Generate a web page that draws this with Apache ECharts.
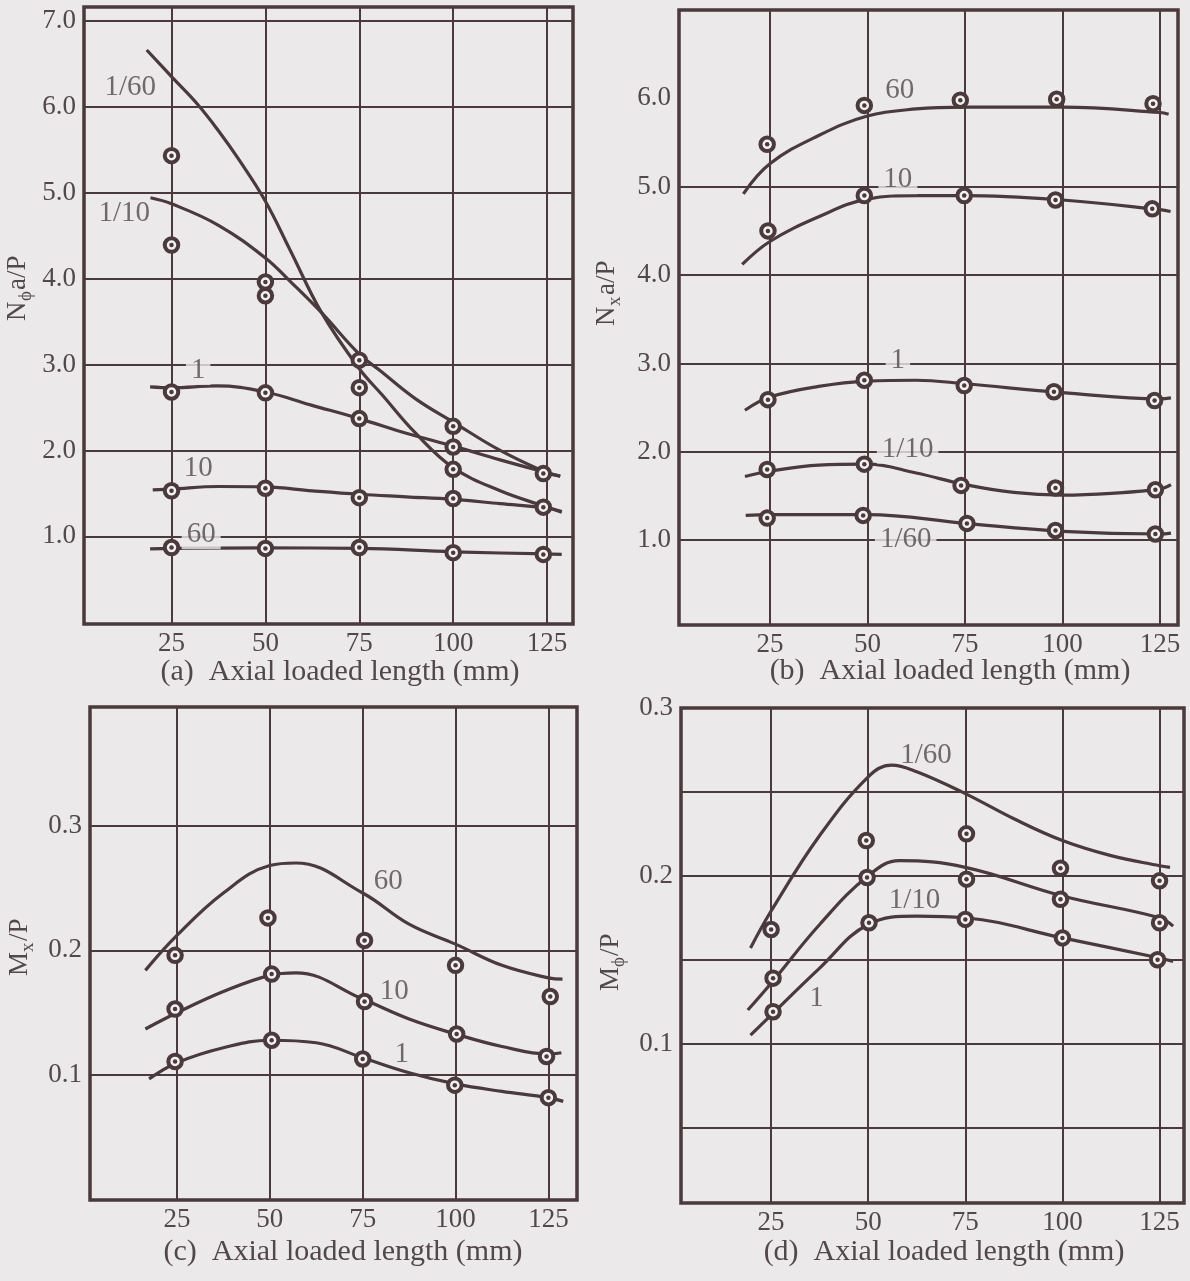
<!DOCTYPE html>
<html>
<head>
<meta charset="utf-8">
<script src="https://cdn.jsdelivr.net/npm/echarts@6/dist/echarts.min.js"></script>
<style>
html, body { margin: 0; padding: 0; background: #ebe9ea; }
#chart { width: 1190px; height: 1281px; }
</style>
</head>
<body>
<div id="chart"></div>
<script>
// axial loaded length ticks (mm)
var lengthTicks = [25, 50, 75, 100, 125];

// (a) N_phi a/P
var aTicks = [1, 2, 3, 4, 5, 6, 7];
var aPoints = [[25, 5.43], [25, 4.39], [25, 2.68], [25, 1.53], [25, 0.87],
    [50, 3.96], [50, 3.80], [50, 2.67], [50, 1.56], [50, 0.86],
    [75, 3.05], [75, 2.73], [75, 2.37], [75, 1.45], [75, 0.87],
    [100, 2.28], [100, 2.04], [100, 1.78], [100, 1.44], [100, 0.81],
    [124, 1.73], [124, 1.34], [124, 0.79]];
var aCurve1_60 = [[18.4, 6.66], [25, 6.35], [31.7, 6.04], [37.5, 5.72], [43, 5.38], [50, 4.90], [56.6, 4.33],
    [65, 3.60], [75, 2.95], [81, 2.65], [90, 2.20], [100, 1.80], [112.5, 1.53], [125, 1.34], [128.9, 1.28]];
var aCurve1_10 = [[19.4, 4.94], [25, 4.87], [37.5, 4.62], [50, 4.24], [57, 3.95], [65, 3.60],
    [75, 3.12], [80.5, 2.93], [90, 2.60], [100, 2.33], [112.5, 2.00], [125, 1.74], [128.5, 1.70]];
var aCurve1 = [[19.3, 2.74], [25, 2.73], [37, 2.75], [50, 2.68], [62, 2.53], [75, 2.37],
    [87.5, 2.20], [100, 2.05], [112.5, 1.89], [125, 1.74], [128.5, 1.70]];
var aCurve10 = [[20, 1.54], [25, 1.55], [37.5, 1.58], [50, 1.575], [62.5, 1.53], [75, 1.49], [87.5, 1.46],
    [100, 1.43], [112.5, 1.38], [125, 1.33], [128.9, 1.29]];
var aCurve60 = [[19.3, 0.855], [25, 0.86], [50, 0.865], [75, 0.86], [100, 0.82], [125, 0.795], [128.9, 0.79]];
var aTags = [[14, 6.23, '1/60', 0], [12.4, 4.76, '1/10', 0], [32.1, 2.93, '1', 1], [32.1, 1.79, '10', 0], [32.9, 1.02, '60', 1]];

// (b) N_x a/P
var bTicks = [1, 2, 3, 4, 5, 6];
var bGrid = [1, 2, 3, 4, 5];
var bPoints = [[24.3, 5.48], [49.2, 5.92], [73.8, 5.98], [98.5, 5.99], [123.2, 5.94],
    [24.5, 4.50], [49.2, 4.90], [74.8, 4.90], [98.2, 4.85], [123, 4.75],
    [24.5, 2.59], [49.2, 2.81], [74.8, 2.75], [97.8, 2.68], [123.6, 2.58],
    [24.3, 1.80], [49.2, 1.86], [74, 1.62], [98.2, 1.59], [123.8, 1.57],
    [24.3, 1.25], [48.9, 1.28], [75.5, 1.19], [98.2, 1.11], [123.8, 1.07]];
var bCurve60 = [[18.2, 4.92], [25, 5.26], [37.5, 5.58], [50, 5.80], [62.5, 5.88], [75, 5.90], [100, 5.90], [125, 5.84], [127.2, 5.82]];
var bCurve10 = [[17.9, 4.12], [25, 4.38], [37.5, 4.66], [50, 4.86], [62.5, 4.90], [75, 4.90], [100, 4.85], [125, 4.74], [127.7, 4.72]];
var bCurve1 = [[18.6, 2.47], [25, 2.62], [37.5, 2.74], [50, 2.80], [62.5, 2.81], [75, 2.77], [100, 2.67], [125, 2.60], [127.8, 2.61]];
var bCurve1_10 = [[18.6, 1.72], [25, 1.78], [37.5, 1.85], [50, 1.86], [62.5, 1.76], [75, 1.63], [87.5, 1.54],
    [100, 1.51], [112.5, 1.53], [125, 1.58], [127.8, 1.63]];
var bCurve1_60 = [[18.8, 1.28], [25, 1.29], [50, 1.29], [75, 1.19], [100, 1.10], [125, 1.07], [127.8, 1.08]];
var bTags = [[58.3, 6.09, '60', 0], [57.8, 5.08, '10', 1], [57.8, 3.03, '1', 1], [60.3, 2.03, '1/10', 1], [59.8, 1.01, '1/60', 1]];

// (c) M_x/P
var cTicks = [0.1, 0.2, 0.3];
var cPoints = [[24.5, 0.196], [49.5, 0.226], [75.5, 0.208], [100, 0.188], [125.5, 0.163],
    [24.5, 0.153], [50.5, 0.181], [75.5, 0.159], [100.3, 0.133], [124.5, 0.115],
    [24.5, 0.111], [50.5, 0.128], [75, 0.113], [99.8, 0.092], [125, 0.082]];
var cCurve60 = [[16.5, 0.184], [25, 0.212], [37.5, 0.246], [50, 0.268], [57, 0.270], [75, 0.246],
    [87.5, 0.221], [100, 0.205], [112.5, 0.188], [125, 0.178], [128.8, 0.177]];
var cCurve10 = [[16.5, 0.137], [25, 0.150], [37.5, 0.167], [50, 0.180], [57, 0.182], [75, 0.161],
    [87.5, 0.145], [100, 0.133], [112.5, 0.123], [125, 0.117], [128.5, 0.118]];
var cCurve1 = [[17.5, 0.097], [25, 0.110], [37.5, 0.122], [50, 0.128], [62.5, 0.126], [75, 0.114], [87.5, 0.102],
    [100, 0.093], [112.5, 0.087], [125, 0.082], [129, 0.079]];
var cTags = [[81.9, 0.255, '60', 0], [83.5, 0.167, '10', 0], [85.5, 0.117, '1', 0]];

// (d) M_phi/P
var dTicks = [0.1, 0.2, 0.3];
var dGrid = [0.05, 0.1, 0.15, 0.2, 0.25];
var dPoints = [[25, 0.168], [49.5, 0.221], [75.3, 0.225], [99.5, 0.2045], [125, 0.197],
    [25.5, 0.139], [49.7, 0.199], [75.3, 0.198], [99.5, 0.186], [125, 0.172],
    [25.5, 0.119], [50.2, 0.172], [75, 0.174], [100, 0.163], [124.5, 0.150]];
var dCurve1_60 = [[19.7, 0.157], [25, 0.179], [37.5, 0.224], [50, 0.259], [56, 0.266], [62.5, 0.262],
    [75, 0.249], [87.5, 0.234], [100, 0.221], [112.5, 0.212], [125, 0.206], [127.7, 0.205]];
var dCurve1_10 = [[19, 0.120], [25, 0.136], [37.5, 0.171], [50, 0.200], [58, 0.209],
    [75, 0.205], [100, 0.188], [125, 0.175], [128.5, 0.170]];
var dCurve1 = [[19.7, 0.105], [25, 0.117], [37.5, 0.145], [50, 0.171], [62.5, 0.176], [75, 0.175], [100, 0.163],
    [125, 0.151], [128.5, 0.149]];
var dTags = [[64.9, 0.2715, '1/60', 0], [61.9, 0.1855, '1/10', 0], [36.7, 0.127, '1', 0]];

var INK = '#4a393d';
var TXT = '#51484b';
var PAPER = '#ebe9ea';
var SERIF = '"Liberation Serif", "DejaVu Serif", serif';

var chart = echarts.init(document.getElementById('chart'));

function xAx(gi, min, max) {
    return {
        type: 'value', gridIndex: gi, min: min, max: max,
        axisLine: { show: false },
        axisTick: { show: false, customValues: lengthTicks },
        axisLabel: { customValues: lengthTicks, margin: 6, fontSize: 27, fontFamily: SERIF, color: TXT },
        splitLine: { show: true, lineStyle: { color: INK, width: 2 } }
    };
}
function yAx(gi, min, max, labels, lines) {
    return {
        type: 'value', gridIndex: gi, min: min, max: max,
        axisLine: { show: false },
        axisTick: { show: false, customValues: lines },
        axisLabel: {
            customValues: labels, margin: 8, fontSize: 27, fontFamily: SERIF, color: TXT,
            formatter: function (v) { return v.toFixed(1); }
        },
        splitLine: { show: true, lineStyle: { color: INK, width: 2 } }
    };
}
function curve(gi, data) {
    return {
        type: 'line', xAxisIndex: gi, yAxisIndex: gi, data: data,
        smooth: 0.4, showSymbol: false, symbol: 'none', silent: true, z: 3,
        lineStyle: { color: INK, width: 3.2 }
    };
}
function marks(gi, data) {
    return [{
        type: 'scatter', xAxisIndex: gi, yAxisIndex: gi, data: data, symbolSize: 13.5, silent: true, z: 4,
        itemStyle: { color: '#f2f0f1', borderColor: INK, borderWidth: 4, opacity: 1 }
    }, {
        type: 'scatter', xAxisIndex: gi, yAxisIndex: gi, data: data, symbolSize: 4.5, silent: true, z: 5,
        itemStyle: { color: INK, opacity: 1 }
    }];
}
function tags(gi, data) {
    return {
        type: 'scatter', xAxisIndex: gi, yAxisIndex: gi, symbolSize: 0, silent: true, z: 6,
        data: data.map(function (d) {
            return {
                value: [d[0], d[1]],
                label: {
                    show: true, position: 'inside', formatter: d[2],
                    fontSize: 29, fontFamily: SERIF, color: TXT,
                    backgroundColor: d[3] ? PAPER : 'transparent', padding: [0, 5]
                }
            };
        })
    };
}

// rotated y-axis name with subscript
function yName(cx, cy, main, sub, rest, subDx) {
    var len = 62;
    return {
        type: 'group', x: cx, y: cy, rotation: Math.PI / 2,
        children: [
            { type: 'text', x: -len / 2, y: 0, style: { text: main, font: '27px ' + SERIF, fill: TXT, verticalAlign: 'middle' } },
            { type: 'text', x: -len / 2 + subDx, y: 8, style: { text: sub, font: '19px ' + SERIF, fill: TXT, verticalAlign: 'middle' } },
            { type: 'text', x: -len / 2 + subDx + 11, y: 0, style: { text: rest, font: '27px ' + SERIF, fill: TXT, verticalAlign: 'middle' } }
        ]
    };
}
function title(cx, cy, text) {
    return { type: 'text', x: cx, y: cy, style: { text: text, font: '30px ' + SERIF, fill: TXT, align: 'center', verticalAlign: 'middle' } };
}

var gridStyle = { show: true, borderColor: INK, borderWidth: 3.5, backgroundColor: 'transparent', containLabel: false };

var option = {
    backgroundColor: PAPER,
    animation: false,
    grid: [
        Object.assign({ left: 84, top: 7, width: 489, height: 617 }, gridStyle),
        Object.assign({ left: 679, top: 10, width: 499, height: 615 }, gridStyle),
        Object.assign({ left: 90, top: 707, width: 487, height: 493 }, gridStyle),
        Object.assign({ left: 681, top: 708, width: 503, height: 495 }, gridStyle)
    ],
    xAxis: [xAx(0, 1.7, 131.9), xAx(1, 1.7, 129.6), xAx(2, 1.6, 132.7), xAx(3, 1.8, 131.3)],
    yAxis: [
        yAx(0, -0.02, 7.16, aTicks, aTicks),
        yAx(1, 0.04, 7.0, bTicks, bGrid),
        yAx(2, 0, 0.395, cTicks, cTicks),
        yAx(3, 0.005, 0.3, dTicks, dGrid)
    ],
    series: [].concat(
        [curve(0, aCurve1_60), curve(0, aCurve1_10), curve(0, aCurve1), curve(0, aCurve10), curve(0, aCurve60)],
        marks(0, aPoints), [tags(0, aTags)],
        [curve(1, bCurve60), curve(1, bCurve10), curve(1, bCurve1), curve(1, bCurve1_10), curve(1, bCurve1_60)],
        marks(1, bPoints), [tags(1, bTags)],
        [curve(2, cCurve60), curve(2, cCurve10), curve(2, cCurve1)],
        marks(2, cPoints), [tags(2, cTags)],
        [curve(3, dCurve1_60), curve(3, dCurve1_10), curve(3, dCurve1)],
        marks(3, dPoints), [tags(3, dTags)]
    ),
    graphic: [
        yName(18, 290, 'N', '\u03d5', 'a/P', 20),
        yName(607, 295, 'N', 'x', 'a/P', 20),
        yName(20, 945, 'M', 'x', '/P', 24),
        yName(611, 960, 'M', '\u03d5', '/P', 24),
        title(340, 672, '(a)  Axial loaded length (mm)'),
        title(950, 671, '(b)  Axial loaded length (mm)'),
        title(343, 1252, '(c)  Axial loaded length (mm)'),
        title(944, 1252, '(d)  Axial loaded length (mm)')
    ]
};
chart.setOption(option);
</script>
</body>
</html>
